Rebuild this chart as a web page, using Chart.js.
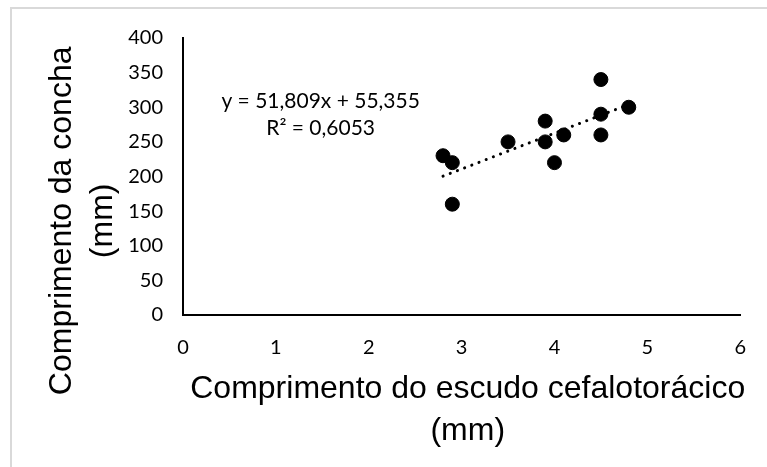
<!DOCTYPE html>
<html>
<head>
<meta charset="utf-8">
<script src="https://cdn.jsdelivr.net/npm/chart.js@4/dist/chart.umd.min.js"></script>
<style>
  html, body { margin: 0; padding: 0; background: #fff; }
  #wrap { width: 767px; height: 467px; position: relative; }
</style>
</head>
<body>
<div id="wrap"><canvas id="c"></canvas></div>
<script>
// Data
const shieldLength = [2.8, 2.9, 2.9, 3.5, 3.9, 3.9, 4.0, 4.1, 4.5, 4.5, 4.5, 4.8];
const shellLength  = [230, 220, 160, 250, 280, 250, 220, 260, 340, 290, 260, 300];
// Trendline as printed on the chart
const trendSlope = 51.809;
const trendIntercept = 55.355;
const trendLabel = ["y = 51,809x + 55,355", "R\u00b2 = 0,6053"];
const xTicks = [0, 1, 2, 3, 4, 5, 6];
const yTicks = [0, 50, 100, 150, 200, 250, 300, 350, 400];
const xTitle = ["Comprimento do escudo cefalotorácico", "(mm)"];
const yTitle = ["Comprimento da concha", "(mm)"];

const points = shieldLength.map((x, i) => ({ x: x, y: shellLength[i] }));
const xMinData = Math.min(...shieldLength);
const xMaxData = Math.max(...shieldLength);
const trendPoints = [xMinData, xMaxData].map(x => ({ x: x, y: trendSlope * x + trendIntercept }));

const borderPlugin = {
  id: 'frame',
  beforeDraw(chart) {
    const ctx = chart.ctx;
    ctx.save();
    ctx.fillStyle = '#ffffff';
    ctx.fillRect(0, 0, chart.width, chart.height);
    ctx.strokeStyle = '#d9d9d9';
    ctx.lineWidth = 2;
    ctx.beginPath();
    ctx.moveTo(11, chart.height);
    ctx.lineTo(11, 8);
    ctx.lineTo(chart.width, 8);
    ctx.stroke();
    ctx.restore();
  }
};

const textPlugin = {
  id: 'texts',
  afterDatasetsDraw(chart) {
    const ctx = chart.ctx;
    const a = chart.chartArea;
    const w = a.right - a.left, h = a.bottom - a.top;
    ctx.save();
    ctx.fillStyle = '#000';
    ctx.textAlign = 'center';
    ctx.textBaseline = 'middle';
    // trendline equation
    ctx.font = '21px Lato';
    const cx = a.left + w * 0.247;
    const cy = a.top + h * 0.228;
    ctx.fillText(trendLabel[0], cx, cy);
    ctx.fillText(trendLabel[1], cx, cy + 27);
    // axis titles
    ctx.font = '32px "Liberation Sans"';
    const xt = a.left + w * 0.511;
    ctx.fillText(xTitle[0], xt, a.bottom + 74);
    ctx.fillText(xTitle[1], xt, a.bottom + 116);
    ctx.translate(a.left - 120.5, a.top + h * 0.66);
    ctx.rotate(-Math.PI / 2);
    ctx.fillText(yTitle[0], 0, 0);
    ctx.fillText(yTitle[1], 0, 41);
    ctx.restore();
  }
};

new Chart(document.getElementById('c'), {
  type: 'scatter',
  data: {
    datasets: [
      {
        label: 'Dados',
        data: points,
        backgroundColor: '#000',
        borderColor: '#000',
        pointRadius: 7,
        pointHoverRadius: 7,
        order: 1
      },
      {
        label: 'Linear',
        type: 'line',
        data: trendPoints,
        borderColor: '#000',
        borderWidth: 3,
        borderCapStyle: 'round',
        borderDash: [0.1, 7.6],
        pointRadius: 0,
        fill: false,
        order: 2
      }
    ]
  },
  plugins: [borderPlugin, textPlugin],
  options: {
    responsive: true,
    maintainAspectRatio: false,
    animation: false,
    events: [],
    layout: { padding: { left: 12, top: 38, right: 24, bottom: 24 } },
    plugins: { legend: { display: false }, tooltip: { enabled: false } },
    scales: {
      x: {
        type: 'linear',
        min: 0, max: 6,
        afterBuildTicks: s => { s.ticks = xTicks.map(v => ({ value: v })); },
        afterFit: s => { s.height = 128; },
        grid: { display: false, drawTicks: false },
        border: { display: true, color: '#000', width: 2 },
        ticks: { color: '#000', font: { family: 'Lato', size: 20 }, padding: 21 },
        title: { display: false }
      },
      y: {
        type: 'linear',
        min: 0, max: 400,
        afterBuildTicks: s => { s.ticks = yTicks.map(v => ({ value: v })); },
        afterFit: s => { s.width = 171; },
        grid: { display: false, drawTicks: false },
        border: { display: true, color: '#000', width: 2 },
        ticks: { color: '#000', font: { family: 'Lato', size: 20 }, padding: 20 },
        title: { display: false }
      }
    }
  }
});
</script>
</body>
</html>
